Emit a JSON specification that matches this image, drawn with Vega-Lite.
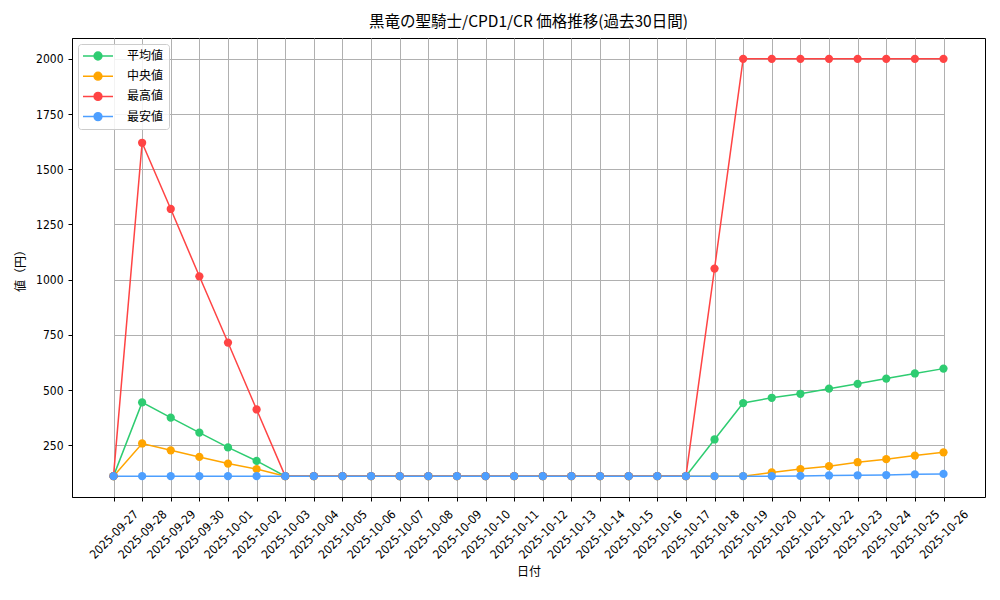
{
  "$schema": "https://vega.github.io/schema/vega-lite/v6.json",
  "autosize": "none",
  "width": 913,
  "height": 459,
  "padding": {"left": 72, "top": 38, "right": 15, "bottom": 103},
  "background": "white",
  "config": {
    "font": "Noto Sans CJK JP",
    "view": {"stroke": "black", "strokeWidth": 1},
    "axis": {"gridColor": "#b0b0b0", "gridWidth": 1, "gridOpacity": 1, "domainColor": "black", "tickColor": "black", "tickSize": 4, "labelColor": "black", "titleColor": "black", "labelFont": "DejaVu Sans Condensed", "labelFontSize": 12, "titleFont": "Noto Sans CJK JP", "titleFontSize": 12, "titleFontWeight": "normal", "labelOverlap": false}
  },
  "title": {"text": "黒竜の聖騎士/CPD1/CR 価格推移(過去30日間)", "fontSize": 15.5, "fontWeight": "normal", "anchor": "middle", "frame": "group", "offset": 8, "color": "black", "font": "Noto Sans CJK JP"},
  "datasets": {
    "t": [
      {"d":"2025-09-27","a":110,"m":110,"x":110,"n":110},
      {"d":"2025-09-28","a":444,"m":258,"x":1620,"n":110},
      {"d":"2025-09-29","a":375,"m":227,"x":1320,"n":110},
      {"d":"2025-09-30","a":307,"m":197,"x":1015,"n":110},
      {"d":"2025-10-01","a":240,"m":167,"x":715,"n":110},
      {"d":"2025-10-02","a":179,"m":142,"x":412,"n":110},
      {"d":"2025-10-03","a":110,"m":110,"x":110,"n":110},
      {"d":"2025-10-04","a":110,"m":110,"x":110,"n":110},
      {"d":"2025-10-05","a":110,"m":110,"x":110,"n":110},
      {"d":"2025-10-06","a":110,"m":110,"x":110,"n":110},
      {"d":"2025-10-07","a":110,"m":110,"x":110,"n":110},
      {"d":"2025-10-08","a":110,"m":110,"x":110,"n":110},
      {"d":"2025-10-09","a":110,"m":110,"x":110,"n":110},
      {"d":"2025-10-10","a":110,"m":110,"x":110,"n":110},
      {"d":"2025-10-11","a":110,"m":110,"x":110,"n":110},
      {"d":"2025-10-12","a":110,"m":110,"x":110,"n":110},
      {"d":"2025-10-13","a":110,"m":110,"x":110,"n":110},
      {"d":"2025-10-14","a":110,"m":110,"x":110,"n":110},
      {"d":"2025-10-15","a":110,"m":110,"x":110,"n":110},
      {"d":"2025-10-16","a":110,"m":110,"x":110,"n":110},
      {"d":"2025-10-17","a":110,"m":110,"x":110,"n":110},
      {"d":"2025-10-18","a":276,"m":110,"x":1050,"n":110},
      {"d":"2025-10-19","a":441,"m":110,"x":2000,"n":110},
      {"d":"2025-10-20","a":465,"m":127,"x":2000,"n":110},
      {"d":"2025-10-21","a":483,"m":142,"x":2000,"n":111},
      {"d":"2025-10-22","a":506,"m":155,"x":2000,"n":113},
      {"d":"2025-10-23","a":528,"m":173,"x":2000,"n":114},
      {"d":"2025-10-24","a":552,"m":187,"x":2000,"n":115},
      {"d":"2025-10-25","a":575,"m":203,"x":2000,"n":118},
      {"d":"2025-10-26","a":597,"m":218,"x":2000,"n":120}
    ]
  },
  "data": {"name": "t"},
  "transform": [
    {"fold": ["a", "m", "x", "n"], "as": ["k", "v"]},
    {"lookup": "k", "from": {"data": {"values": [
      {"k":"a","s":"平均値","o":0},
      {"k":"m","s":"中央値","o":1},
      {"k":"x","s":"最高値","o":2},
      {"k":"n","s":"最安値","o":3}
    ]}, "key": "k", "fields": ["s", "o"]}}
  ],
  "encoding": {
    "x": {"field": "d", "type": "ordinal", "sort": null,
      "scale": {"type": "point", "padding": 0, "range": [41.5, 871.5]},
      "axis": {"title": "日付", "labelAngle": -45, "labelAlign": "center", "labelBaseline": "middle", "grid": true, "titlePadding": 6, "labelPadding": 33}},
    "y": {"field": "v", "type": "quantitative",
      "scale": {"domain": [15.5, 2094.5], "nice": false, "zero": false},
      "axis": {"title": "値（円）", "format": "d", "values": [250, 500, 750, 1000, 1250, 1500, 1750, 2000], "grid": true, "titlePadding": 8, "labelPadding": 5}},
    "color": {"field": "s", "type": "nominal",
      "scale": {"domain": ["平均値", "中央値", "最高値", "最安値"], "range": ["#2ecc71", "#ffa500", "#ff4444", "#4d9fff"]},
      "legend": {"title": null, "orient": "none", "legendX": 6, "legendY": 6,
        "fillColor": "rgba(255,255,255,0.85)", "strokeColor": "#cccccc", "cornerRadius": 3, "padding": 5,
        "symbolType": "M-2.5,0L2.5,0M-0.65,0A0.65,0.65,0,1,1,0.65,0A0.65,0.65,0,1,1,-0.65,0",
        "symbolSize": 144, "symbolStrokeWidth": 1.5, "symbolOffset": 8, "labelFontSize": 12, "rowPadding": 6.2, "labelOffset": 22,
        "encode": {"symbols": {"update": {"fill": {"scale": "color", "field": "value"}, "stroke": {"scale": "color", "field": "value"}, "opacity": {"value": 1}}}}}}
  },
  "layer": [
    {"mark": {"type": "line", "strokeWidth": 1.5}, "encoding": {"detail": {"field": "s"}, "order": {"field": "d"}}},
    {"mark": {"type": "point", "filled": true, "size": 68, "opacity": 1}, "encoding": {"order": {"field": "o", "type": "quantitative"}}}
  ]
}
